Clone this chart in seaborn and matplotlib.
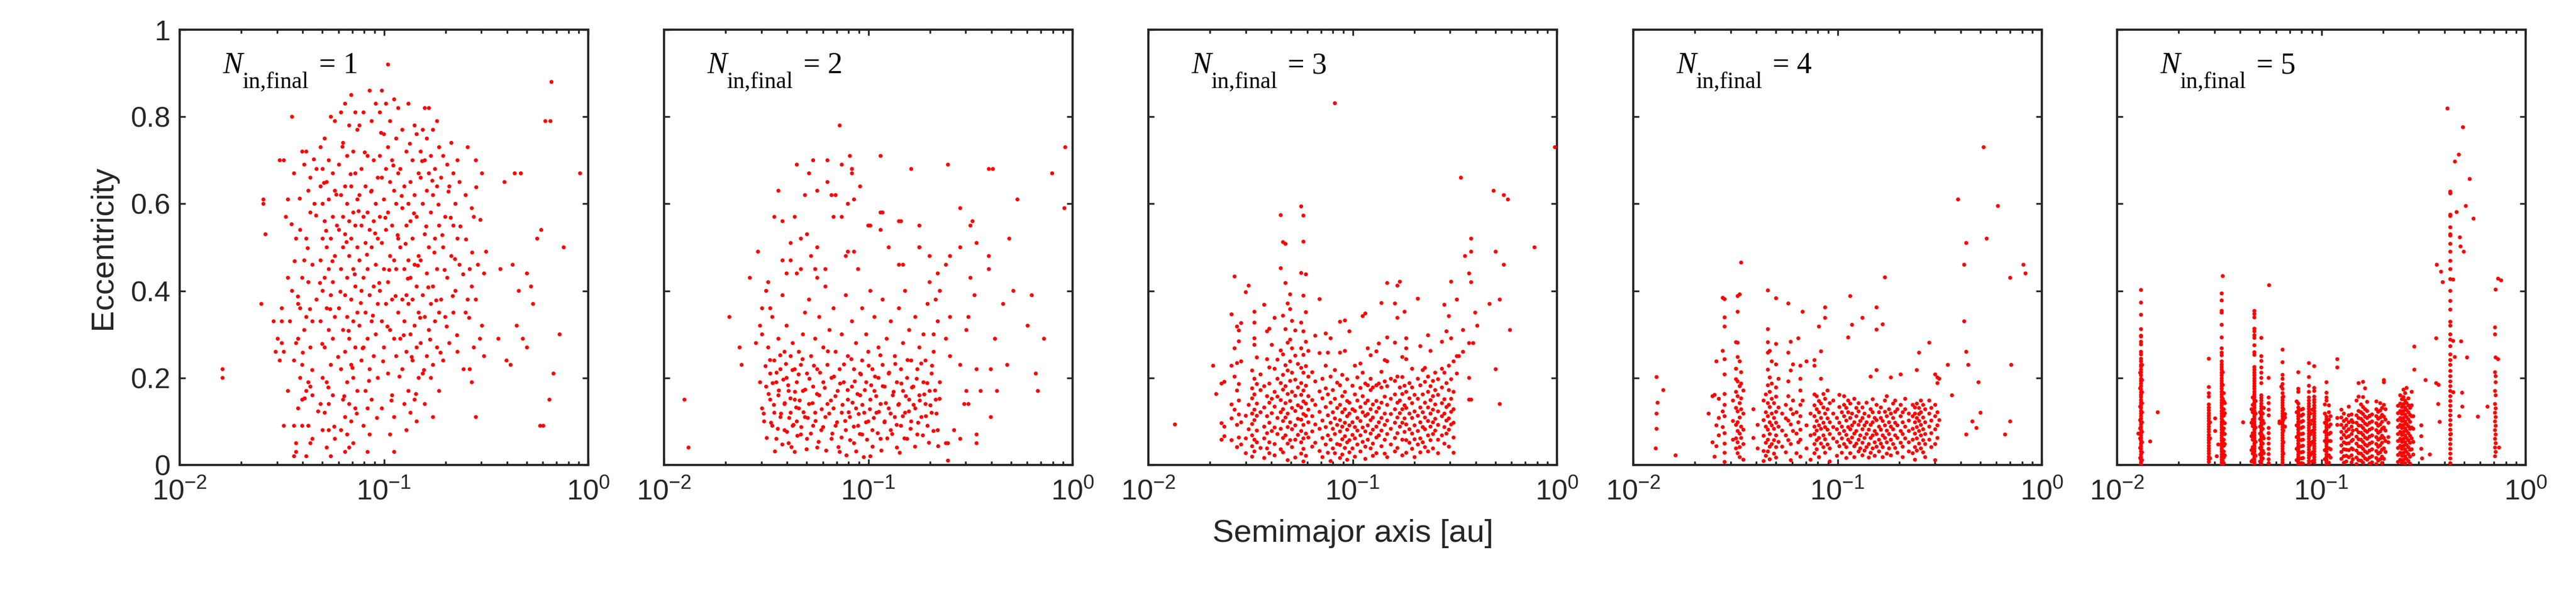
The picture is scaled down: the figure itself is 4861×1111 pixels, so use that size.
"""
Eccentricity vs semimajor axis for systems with N_in,final = 1..5
Five log-x scatter panels in one row, MATLAB-like box style.
"""

import numpy as np
import pandas as pd
import matplotlib
matplotlib.use('Agg')
import matplotlib.pyplot as plt
import seaborn as sns
from matplotlib.ticker import LogLocator, NullFormatter, FixedLocator

# ==================== DATA ====================
# Values: (log10 a [au], e) pairs.
# Panels 1-2 are loose clouds -> plain pairs.
# Panels 3-5 show vertical streaks -> (log10 a, [e, e, ...]) columns.

panel1_points = [
    (-1.79, 0.22), (-1.79, 0.20), (-1.59, 0.61), (-1.59, 0.60), (-1.58, 0.53), (-1.60, 0.37),
    (-1.54, 0.33), (-1.50, 0.36), (-1.52, 0.29), (-1.53, 0.26), (-1.51, 0.24), (-1.50, 0.28),
    (-1.51, 0.70), (-1.49, 0.70), (-1.45, 0.80), (-1.44, 0.67), (-1.47, 0.61), (-1.48, 0.57),
    (-1.43, 0.52), (-1.47, 0.43), (-1.45, 0.40), (-1.42, 0.37), (-1.50, 0.33), (-1.46, 0.33),
    (-1.43, 0.28), (-1.49, 0.26), (-1.44, 0.24), (-1.47, 0.17), (-1.42, 0.13), (-1.49, 0.09),
    (-1.44, 0.09), (-1.43, 0.05), (-1.40, 0.15), (-1.43, 0.03), (-1.44, 0.02),
    (-1.40, 0.72), (-1.38, 0.72), (-1.39, 0.69), (-1.33, 0.68), (-1.36, 0.66), (-1.37, 0.63),
    (-1.34, 0.60), (-1.36, 0.58), (-1.41, 0.54), (-1.38, 0.52), (-1.39, 0.47), (-1.35, 0.46),
    (-1.40, 0.43), (-1.37, 0.42), (-1.33, 0.38), (-1.41, 0.36), (-1.38, 0.34), (-1.35, 0.33),
    (-1.39, 0.31), (-1.42, 0.29), (-1.36, 0.27), (-1.40, 0.23), (-1.41, 0.20), (-1.37, 0.19),
    (-1.36, 0.18), (-1.38, 0.17), (-1.35, 0.16), (-1.40, 0.09), (-1.37, 0.09), (-1.35, 0.06),
    (-1.36, 0.05), (-1.38, 0.02),
    (-1.26, 0.80), (-1.24, 0.79), (-1.29, 0.75), (-1.31, 0.73), (-1.27, 0.70), (-1.30, 0.68),
    (-1.25, 0.67), (-1.28, 0.65), (-1.31, 0.64), (-1.24, 0.63), (-1.27, 0.61), (-1.30, 0.60),
    (-1.25, 0.57), (-1.29, 0.56), (-1.23, 0.55), (-1.30, 0.52), (-1.26, 0.52), (-1.28, 0.50),
    (-1.24, 0.48), (-1.31, 0.47), (-1.27, 0.45), (-1.29, 0.43), (-1.25, 0.42), (-1.30, 0.40),
    (-1.26, 0.39), (-1.28, 0.36), (-1.24, 0.34), (-1.31, 0.33), (-1.27, 0.31), (-1.25, 0.29),
    (-1.29, 0.27), (-1.26, 0.23), (-1.30, 0.20), (-1.28, 0.19), (-1.25, 0.16), (-1.31, 0.14),
    (-1.27, 0.14), (-1.29, 0.12), (-1.30, 0.08), (-1.27, 0.08), (-1.24, 0.06), (-1.28, 0.04),
    (-1.26, 0.02),
    (-1.16, 0.85), (-1.19, 0.83), (-1.14, 0.81), (-1.21, 0.81), (-1.17, 0.78), (-1.13, 0.77),
    (-1.20, 0.74), (-1.15, 0.72), (-1.18, 0.71), (-1.22, 0.69), (-1.14, 0.67), (-1.19, 0.64),
    (-1.16, 0.64), (-1.21, 0.62), (-1.13, 0.61), (-1.18, 0.60), (-1.15, 0.58), (-1.20, 0.57),
    (-1.17, 0.56), (-1.14, 0.55), (-1.22, 0.54), (-1.19, 0.53), (-1.16, 0.52), (-1.13, 0.50),
    (-1.20, 0.50), (-1.17, 0.48), (-1.21, 0.45), (-1.15, 0.45), (-1.18, 0.43), (-1.14, 0.41),
    (-1.19, 0.39), (-1.16, 0.38), (-1.22, 0.36), (-1.13, 0.35), (-1.18, 0.34), (-1.15, 0.33),
    (-1.20, 0.31), (-1.17, 0.29), (-1.14, 0.27), (-1.19, 0.26), (-1.16, 0.23), (-1.21, 0.22),
    (-1.15, 0.20), (-1.18, 0.19), (-1.13, 0.17), (-1.20, 0.15), (-1.17, 0.14), (-1.14, 0.13),
    (-1.19, 0.11), (-1.16, 0.10), (-1.21, 0.08), (-1.18, 0.07), (-1.15, 0.05), (-1.17, 0.04),
    (-1.19, 0.03),
    (-1.07, 0.86), (-1.04, 0.83), (-1.10, 0.81), (-1.06, 0.79), (-1.12, 0.78), (-1.08, 0.71),
    (-1.05, 0.70), (-1.11, 0.68), (-1.03, 0.66), (-1.09, 0.64), (-1.06, 0.63), (-1.12, 0.62),
    (-1.04, 0.60), (-1.08, 0.58), (-1.10, 0.57), (-1.05, 0.56), (-1.11, 0.55), (-1.07, 0.54),
    (-1.03, 0.52), (-1.09, 0.51), (-1.06, 0.50), (-1.12, 0.47), (-1.04, 0.46), (-1.08, 0.45),
    (-1.10, 0.43), (-1.05, 0.41), (-1.11, 0.40), (-1.07, 0.39), (-1.03, 0.37), (-1.09, 0.35),
    (-1.06, 0.33), (-1.12, 0.32), (-1.04, 0.30), (-1.08, 0.29), (-1.10, 0.27), (-1.05, 0.25),
    (-1.11, 0.24), (-1.07, 0.22), (-1.03, 0.20), (-1.09, 0.17), (-1.06, 0.15), (-1.08, 0.13),
    (-1.10, 0.09), (-1.07, 0.07), (-1.08, 0.03),
    (-0.98, 0.92), (-1.01, 0.86), (-0.95, 0.84), (-0.99, 0.83), (-0.93, 0.82), (-1.02, 0.81),
    (-0.97, 0.79), (-1.00, 0.76), (-0.94, 0.75), (-0.98, 0.73), (-1.02, 0.71), (-0.96, 0.70),
    (-0.99, 0.68), (-0.93, 0.67), (-1.01, 0.66), (-0.97, 0.65), (-0.95, 0.63), (-1.00, 0.61),
    (-0.94, 0.60), (-0.98, 0.58), (-1.02, 0.57), (-0.96, 0.55), (-0.99, 0.54), (-0.93, 0.52),
    (-1.01, 0.51), (-0.97, 0.48), (-0.95, 0.47), (-1.00, 0.45), (-0.94, 0.45), (-0.98, 0.42),
    (-1.02, 0.40), (-0.96, 0.38), (-0.99, 0.37), (-0.93, 0.35), (-1.01, 0.33), (-0.97, 0.31),
    (-0.95, 0.29), (-1.00, 0.27), (-0.94, 0.25), (-0.98, 0.21), (-0.96, 0.16), (-1.01, 0.13),
    (-0.95, 0.11), (-0.97, 0.07), (-0.95, 0.03),
    (-0.88, 0.83), (-0.85, 0.78), (-0.91, 0.77), (-0.84, 0.76), (-0.89, 0.72), (-0.86, 0.70),
    (-0.92, 0.68), (-0.83, 0.67), (-0.87, 0.65), (-0.90, 0.64), (-0.85, 0.62), (-0.88, 0.60),
    (-0.91, 0.59), (-0.84, 0.57), (-0.87, 0.56), (-0.89, 0.55), (-0.86, 0.52), (-0.92, 0.50),
    (-0.83, 0.48), (-0.88, 0.47), (-0.85, 0.46), (-0.90, 0.45), (-0.87, 0.43), (-0.84, 0.41),
    (-0.89, 0.39), (-0.91, 0.38), (-0.86, 0.38), (-0.88, 0.37), (-0.83, 0.35), (-0.90, 0.33),
    (-0.85, 0.32), (-0.87, 0.30), (-0.92, 0.29), (-0.84, 0.27), (-0.89, 0.26), (-0.86, 0.24),
    (-0.91, 0.22), (-0.83, 0.20), (-0.88, 0.17), (-0.85, 0.15), (-0.90, 0.14), (-0.87, 0.12),
    (-0.84, 0.10), (-0.89, 0.08),
    (-0.78, 0.82), (-0.80, 0.82), (-0.74, 0.79), (-0.81, 0.77), (-0.76, 0.77), (-0.79, 0.75),
    (-0.73, 0.73), (-0.82, 0.72), (-0.77, 0.71), (-0.80, 0.70), (-0.75, 0.68), (-0.78, 0.67),
    (-0.82, 0.66), (-0.74, 0.64), (-0.79, 0.63), (-0.76, 0.62), (-0.81, 0.60), (-0.77, 0.58),
    (-0.73, 0.55), (-0.80, 0.53), (-0.75, 0.52), (-0.78, 0.50), (-0.82, 0.47), (-0.74, 0.45),
    (-0.79, 0.44), (-0.76, 0.41), (-0.81, 0.39), (-0.77, 0.37), (-0.73, 0.35), (-0.80, 0.34),
    (-0.75, 0.33), (-0.78, 0.31), (-0.82, 0.28), (-0.74, 0.27), (-0.79, 0.25), (-0.76, 0.23),
    (-0.81, 0.21), (-0.77, 0.20), (-0.73, 0.17), (-0.80, 0.14), (-0.76, 0.11),
    (-0.67, 0.74), (-0.71, 0.71), (-0.64, 0.70), (-0.69, 0.69), (-0.66, 0.67), (-0.72, 0.66),
    (-0.63, 0.65), (-0.68, 0.64), (-0.65, 0.60), (-0.70, 0.57), (-0.66, 0.55), (-0.64, 0.52),
    (-0.71, 0.50), (-0.67, 0.48), (-0.63, 0.46), (-0.69, 0.43), (-0.65, 0.40), (-0.72, 0.38),
    (-0.66, 0.35), (-0.70, 0.34), (-0.68, 0.28), (-0.64, 0.26), (-0.71, 0.24),
    (-0.59, 0.73), (-0.55, 0.70), (-0.52, 0.67), (-0.57, 0.59), (-0.60, 0.62), (-0.56, 0.57),
    (-0.50, 0.49), (-0.58, 0.45), (-0.54, 0.46), (-0.51, 0.44), (-0.57, 0.41), (-0.60, 0.35),
    (-0.55, 0.38), (-0.59, 0.38), (-0.52, 0.32), (-0.56, 0.27), (-0.61, 0.22), (-0.58, 0.22),
    (-0.53, 0.29), (-0.57, 0.19), (-0.55, 0.11), (-0.51, 0.25),
    (-0.43, 0.45), (-0.36, 0.67), (-0.33, 0.67), (-0.41, 0.65), (-0.37, 0.46), (-0.34, 0.40),
    (-0.30, 0.44), (-0.35, 0.32), (-0.32, 0.29), (-0.30, 0.27), (-0.40, 0.24), (-0.44, 0.29),
    (-0.38, 0.23),
    (-0.18, 0.88), (-0.21, 0.79), (-0.185, 0.79), (-0.04, 0.67), (-0.23, 0.54), (-0.25, 0.52),
    (-0.12, 0.50), (-0.28, 0.41), (-0.27, 0.37), (-0.14, 0.30), (-0.17, 0.21), (-0.19, 0.15),
    (-0.235, 0.09), (-0.22, 0.09),
    (-1.452, 0.553), (-1.437, 0.468), (-1.421, 0.387), (-1.412, 0.612), (-1.397, 0.258),
    (-1.388, 0.153), (-1.373, 0.498), (-1.362, 0.358), (-1.351, 0.218), (-1.343, 0.702),
    (-1.332, 0.573), (-1.322, 0.123), (-1.313, 0.418), (-1.302, 0.278), (-1.293, 0.648),
    (-1.283, 0.538), (-1.272, 0.178), (-1.263, 0.358), (-1.252, 0.468), (-1.243, 0.088),
    (-1.233, 0.621), (-1.224, 0.248), (-1.213, 0.398), (-1.203, 0.731), (-1.194, 0.158),
    (-1.183, 0.512), (-1.173, 0.308), (-1.163, 0.668), (-1.154, 0.223), (-1.143, 0.438),
    (-1.133, 0.118), (-1.124, 0.583), (-1.113, 0.372), (-1.104, 0.268), (-1.094, 0.718),
    (-1.083, 0.483), (-1.073, 0.193), (-1.063, 0.628), (-1.054, 0.343), (-1.043, 0.532),
    (-1.034, 0.108), (-1.023, 0.418), (-1.014, 0.763), (-1.004, 0.238), (-0.993, 0.568),
    (-0.983, 0.318), (-0.974, 0.448), (-0.963, 0.148), (-0.954, 0.688), (-0.943, 0.388),
    (-0.933, 0.528), (-0.924, 0.203), (-0.913, 0.618), (-0.903, 0.298), (-0.894, 0.508),
    (-0.883, 0.428), (-0.873, 0.738), (-0.864, 0.248), (-0.853, 0.578), (-0.843, 0.163),
    (-0.834, 0.458), (-0.823, 0.338), (-0.813, 0.698), (-0.804, 0.218), (-0.793, 0.548),
    (-0.783, 0.408), (-0.774, 0.288), (-0.763, 0.653), (-0.753, 0.488), (-0.744, 0.378),
    (-0.733, 0.598), (-0.723, 0.258), (-0.714, 0.528), (-0.703, 0.448), (-0.693, 0.318),
    (-0.684, 0.628), (-0.673, 0.568), (-0.663, 0.388), (-0.652, 0.473), (-0.642, 0.298),
    (-0.626, 0.548), (-0.612, 0.438), (-0.598, 0.518), (-0.583, 0.338), (-0.568, 0.488),
    (-0.548, 0.638), (-0.528, 0.563),
]

panel2_points = [
    (-1.90, 0.15), (-1.88, 0.04), (-1.68, 0.34), (-1.63, 0.27), (-1.62, 0.23), (-1.58, 0.43),
    (-1.55, 0.28), (-1.53, 0.19), (-1.54, 0.49), (-1.14, 0.78), (-0.94, 0.71), (-1.09, 0.71),
    (-0.61, 0.69), (-0.41, 0.68), (-0.39, 0.68), (-0.79, 0.68), (-0.27, 0.61), (-0.10, 0.67),
    (-0.036, 0.73), (-0.04, 0.59),
    (-0.31, 0.52), (-0.34, 0.37), (-0.29, 0.40), (-0.20, 0.39), (-0.22, 0.32), (-0.14, 0.29),
    (-0.18, 0.21), (-0.17, 0.17), (-0.32, 0.23), (-0.40, 0.22), (-0.40, 0.11), (-0.38, 0.29),
    (-0.41, 0.45), (-0.41, 0.48), (-0.47, 0.51), (-0.50, 0.43), (-0.49, 0.56), (-0.50, 0.55),
    (-0.55, 0.59), (-0.55, 0.50), (-0.60, 0.48), (-0.62, 0.46), (-0.48, 0.39), (-0.51, 0.34),
    (-0.52, 0.31), (-0.47, 0.22), (-0.45, 0.17), (-0.37, 0.17), (-0.51, 0.14), (-0.47, 0.07),
    (-0.47, 0.05), (-0.62, 0.05), (-0.61, 0.05), (-0.61, 0.01), (-0.58, 0.08), (-0.55, 0.06),
    (-0.53, 0.14), (-0.52, 0.17), (-0.55, 0.23), (-0.60, 0.25), (-0.62, 0.29), (-0.60, 0.34),
    (-0.68, 0.30), (-0.66, 0.33), (-0.67, 0.38), (-0.70, 0.42), (-0.65, 0.40), (-0.75, 0.50),
    (-0.70, 0.48), (-0.75, 0.55), (-0.85, 0.56), (-0.84, 0.56), (-0.66, 0.44),
    (-1.35, 0.69), (-1.44, 0.63), (-1.46, 0.57), (-1.42, 0.56), (-1.36, 0.57), (-1.31, 0.62),
    (-1.29, 0.67), (-1.27, 0.70), (-1.25, 0.63), (-1.20, 0.70), (-1.20, 0.65), (-1.18, 0.62),
    (-1.16, 0.62), (-1.13, 0.69), (-1.08, 0.68), (-1.08, 0.67), (-1.04, 0.64), (-1.07, 0.61),
    (-1.10, 0.60), (-1.00, 0.55), (-0.99, 0.55), (-0.94, 0.54), (-0.94, 0.58), (-0.93, 0.58),
    (-0.90, 0.50), (-0.85, 0.46), (-0.83, 0.46), (-0.75, 0.50), (-1.05, 0.45), (-1.07, 0.49),
    (-1.10, 0.49), (-1.11, 0.48), (-1.13, 0.57), (-1.17, 0.57), (-1.21, 0.45), (-1.25, 0.43),
    (-1.26, 0.45), (-1.30, 0.53), (-1.28, 0.48), (-1.25, 0.50), (-1.38, 0.51), (-1.38, 0.47),
    (-1.40, 0.44), (-1.33, 0.45), (-1.42, 0.47), (-1.49, 0.42), (-1.50, 0.40), (-1.48, 0.36),
    (-1.52, 0.36), (-1.53, 0.32), (-1.52, 0.30),
    (-1.52, 0.13), (-1.51, 0.10), (-1.50, 0.18), (-1.49, 0.27), (-1.48, 0.21), (-1.48, 0.15),
    (-1.47, 0.34), (-1.47, 0.09), (-1.46, 0.24), (-1.46, 0.12), (-1.45, 0.19), (-1.45, 0.06),
    (-1.44, 0.29), (-1.44, 0.16), (-1.43, 0.22), (-1.43, 0.11), (-1.42, 0.39), (-1.41, 0.26),
    (-1.41, 0.14), (-1.41, 0.08), (-1.40, 0.20), (-1.40, 0.32), (-1.39, 0.17), (-1.39, 0.05),
    (-1.38, 0.25), (-1.38, 0.12), (-1.37, 0.28), (-1.37, 0.09), (-1.36, 0.22), (-1.36, 0.15),
    (-1.36, 0.03), (-1.35, 0.44), (-1.35, 0.19), (-1.35, 0.10), (-1.34, 0.26), (-1.34, 0.13),
    (-1.33, 0.52), (-1.33, 0.23), (-1.33, 0.07), (-1.32, 0.30), (-1.32, 0.17), (-1.31, 0.35),
    (-1.31, 0.11), (-1.30, 0.21), (-1.30, 0.06), (-1.29, 0.38), (-1.29, 0.14), (-1.28, 0.25),
    (-1.27, 0.18), (-1.27, 0.09), (-1.26, 0.29), (-1.26, 0.12), (-1.25, 0.22), (-1.25, 0.04),
    (-1.24, 0.34), (-1.24, 0.16), (-1.23, 0.08), (-1.22, 0.27), (-1.22, 0.19), (-1.21, 0.41),
    (-1.21, 0.11), (-1.20, 0.23), (-1.20, 0.14), (-1.19, 0.31), (-1.18, 0.06), (-1.18, 0.20),
    (-1.17, 0.36), (-1.17, 0.13), (-1.16, 0.26), (-1.16, 0.09), (-1.15, 0.17), (-1.14, 0.22),
    (-1.14, 0.03), (-1.13, 0.30), (-1.13, 0.12), (-1.12, 0.19), (-1.11, 0.39), (-1.11, 0.08),
    (-1.10, 0.25), (-1.10, 0.15), (-1.09, 0.11), (-1.08, 0.33), (-1.08, 0.18), (-1.07, 0.22),
    (-1.07, 0.05), (-1.06, 0.28), (-1.06, 0.13), (-1.05, 0.09), (-1.04, 0.21), (-1.04, 0.16),
    (-1.03, 0.36), (-1.03, 0.24), (-1.03, 0.07), (-1.02, 0.12), (-1.01, 0.30), (-1.01, 0.19),
    (-1.00, 0.26), (-1.00, 0.10), (-0.99, 0.40), (-0.99, 0.15), (-0.99, 0.02), (-0.98, 0.22),
    (-0.98, 0.08), (-0.97, 0.34), (-0.97, 0.17), (-0.96, 0.12), (-0.95, 0.27), (-0.95, 0.20),
    (-0.94, 0.06), (-0.94, 0.14), (-0.93, 0.38), (-0.93, 0.23), (-0.92, 0.18), (-0.92, 0.10),
    (-0.91, 0.29), (-0.90, 0.13), (-0.90, 0.21), (-0.89, 0.33), (-0.89, 0.08), (-0.88, 0.16),
    (-0.87, 0.25), (-0.87, 0.11), (-0.86, 0.19), (-0.86, 0.04), (-0.85, 0.36), (-0.85, 0.14),
    (-0.84, 0.22), (-0.84, 0.09), (-0.83, 0.28), (-0.83, 0.17), (-0.82, 0.40), (-0.82, 0.12),
    (-0.81, 0.20), (-0.81, 0.06), (-0.80, 0.31), (-0.80, 0.15), (-0.79, 0.24), (-0.79, 0.10),
    (-0.78, 0.18), (-0.77, 0.34), (-0.77, 0.13), (-0.76, 0.22), (-0.76, 0.07), (-0.75, 0.27),
    (-0.75, 0.16), (-0.74, 0.11), (-0.73, 0.19), (-0.73, 0.30), (-0.72, 0.14), (-0.72, 0.24),
    (-0.71, 0.09), (-0.71, 0.37), (-0.70, 0.17), (-0.69, 0.21), (-0.69, 0.12), (-0.68, 0.26),
    (-0.67, 0.15), (-0.66, 0.08), (-0.65, 0.19),
    (-1.512, 0.118), (-1.503, 0.227), (-1.497, 0.062), (-1.488, 0.163), (-1.481, 0.241),
    (-1.476, 0.097), (-1.468, 0.188), (-1.462, 0.138), (-1.457, 0.031), (-1.449, 0.212),
    (-1.443, 0.083), (-1.438, 0.171), (-1.431, 0.252), (-1.427, 0.118), (-1.421, 0.047),
    (-1.416, 0.196), (-1.409, 0.142), (-1.403, 0.232), (-1.398, 0.076), (-1.392, 0.183),
    (-1.387, 0.108), (-1.381, 0.153), (-1.376, 0.041), (-1.371, 0.218), (-1.366, 0.092),
    (-1.359, 0.168), (-1.353, 0.132), (-1.347, 0.067), (-1.341, 0.208), (-1.336, 0.148),
    (-1.328, 0.087), (-1.322, 0.243), (-1.317, 0.121), (-1.309, 0.173), (-1.302, 0.036),
    (-1.296, 0.108), (-1.288, 0.198), (-1.281, 0.072), (-1.273, 0.142), (-1.266, 0.228),
    (-1.258, 0.101), (-1.251, 0.163), (-1.243, 0.053), (-1.236, 0.212), (-1.228, 0.128),
    (-1.221, 0.087), (-1.213, 0.177), (-1.206, 0.033), (-1.198, 0.261), (-1.191, 0.118),
    (-1.183, 0.148), (-1.176, 0.072), (-1.168, 0.203), (-1.161, 0.158), (-1.153, 0.098),
    (-1.146, 0.041), (-1.138, 0.187), (-1.131, 0.063), (-1.126, 0.138), (-1.119, 0.231),
    (-1.113, 0.101), (-1.107, 0.022), (-1.101, 0.172), (-1.096, 0.121), (-1.089, 0.057),
    (-1.083, 0.243), (-1.077, 0.143), (-1.071, 0.088), (-1.066, 0.192), (-1.059, 0.031),
    (-1.053, 0.163), (-1.047, 0.117), (-1.041, 0.071), (-1.036, 0.208), (-1.029, 0.138),
    (-1.022, 0.018), (-1.017, 0.172), (-1.011, 0.098), (-1.006, 0.058), (-0.998, 0.228),
    (-0.992, 0.128), (-0.986, 0.183), (-0.979, 0.042), (-0.973, 0.108), (-0.967, 0.203),
    (-0.961, 0.158), (-0.954, 0.073), (-0.948, 0.122), (-0.941, 0.252), (-0.936, 0.033),
    (-0.929, 0.181), (-0.921, 0.098), (-0.914, 0.142), (-0.907, 0.061), (-0.898, 0.212),
    (-0.891, 0.118), (-0.883, 0.071), (-0.876, 0.168), (-0.868, 0.232), (-0.861, 0.092),
    (-0.853, 0.138), (-0.846, 0.028), (-0.838, 0.187), (-0.831, 0.112), (-0.823, 0.061),
    (-0.816, 0.158), (-0.808, 0.241), (-0.801, 0.123), (-0.793, 0.083), (-0.786, 0.178),
    (-0.778, 0.138), (-0.771, 0.042), (-0.763, 0.198), (-0.756, 0.097), (-0.748, 0.148),
    (-0.741, 0.233), (-0.733, 0.068), (-0.726, 0.162), (-0.718, 0.112), (-0.711, 0.188),
    (-0.703, 0.051), (-0.696, 0.137), (-0.688, 0.228), (-0.681, 0.078), (-0.673, 0.171),
    (-0.666, 0.118), (-0.658, 0.043), (-0.651, 0.152),
]

panel3_columns = [
    (-1.870, [0.093]), (-1.683, [0.228]), (-1.668, [0.163]), (-1.642, [0.187, 0.096, 0.058]),
    (-1.628, [0.191, 0.088, 0.066]), (-1.593, [0.346, 0.228, 0.139, 0.107, 0.057]),
    (-1.578, [0.433, 0.268, 0.203, 0.127]), (-1.566, [0.318, 0.234, 0.171, 0.092, 0.041]),
    (-1.557, [0.284, 0.309, 0.186, 0.148, 0.116, 0.063]), (-1.546, [0.326, 0.238, 0.098, 0.047]),
    (-1.523, [0.397, 0.113, 0.061, 0.027]), (-1.509, [0.412, 0.138, 0.082]),
    (-1.492, [0.217, 0.176, 0.153, 0.118, 0.094, 0.068, 0.043, 0.019]),
    (-1.481, [0.352, 0.327, 0.291, 0.276, 0.198, 0.162, 0.127, 0.103, 0.058, 0.031]),
    (-1.469, [0.247, 0.186, 0.141, 0.113, 0.079, 0.052]),
    (-1.451, [0.208, 0.172, 0.121, 0.039]),
    (-1.433, [0.368, 0.181, 0.132, 0.088, 0.061, 0.016]),
    (-1.419, [0.307, 0.243, 0.158, 0.112, 0.073, 0.038]),
    (-1.408, [0.313, 0.224, 0.187, 0.143, 0.097, 0.052, 0.027]),
    (-1.396, [0.276, 0.152, 0.119, 0.078]),
    (-1.382, [0.338, 0.221, 0.168, 0.134, 0.086, 0.048, 0.022]),
    (-1.368, [0.242, 0.198, 0.157, 0.108, 0.071]),
    (-1.352, [0.574, 0.452, 0.263, 0.188, 0.149, 0.121, 0.083, 0.036]),
    (-1.341, [0.512, 0.343, 0.254, 0.207, 0.173, 0.128, 0.101, 0.062, 0.029]),
    (-1.329, [0.508, 0.418, 0.312, 0.229, 0.181, 0.142, 0.109, 0.068]),
    (-1.318, [0.371, 0.281, 0.217, 0.163, 0.118, 0.087, 0.049, 0.011]),
    (-1.306, [0.392, 0.358, 0.288, 0.238, 0.193, 0.147, 0.098, 0.057]),
    (-1.297, [0.331, 0.268, 0.212, 0.168, 0.131, 0.082, 0.041]),
    (-1.281, [0.309, 0.251, 0.196, 0.159, 0.124, 0.091, 0.058, 0.017]),
    (-1.268, [0.232, 0.178, 0.137, 0.106, 0.069]),
    (-1.252, [0.594, 0.441, 0.327, 0.268, 0.223, 0.188, 0.161, 0.132, 0.104, 0.078, 0.052, 0.026]),
    (-1.241, [0.573, 0.513, 0.389, 0.307, 0.253, 0.212, 0.171, 0.146, 0.117, 0.092, 0.061, 0.037, 0.008]),
    (-1.229, [0.438, 0.351, 0.283, 0.227, 0.182, 0.141, 0.113, 0.072, 0.021]),
    (-1.217, [0.262, 0.203, 0.158, 0.127, 0.098, 0.063]),
    (-1.198, [0.213, 0.149, 0.112, 0.077, 0.042]),
    (-1.183, [0.297, 0.192, 0.138, 0.093, 0.051]),
    (-1.162, [0.381, 0.257, 0.169, 0.122, 0.083, 0.032]),
    (-1.148, [0.198, 0.153, 0.102, 0.062, 0.018]),
    (-1.132, [0.302, 0.228, 0.176, 0.133, 0.087, 0.047]),
    (-1.121, [0.258, 0.162, 0.114, 0.068, 0.028]),
    (-1.108, [0.291, 0.203, 0.143, 0.097, 0.058, 0.009]),
    (-1.097, [0.172, 0.121, 0.083, 0.038]),
    (-1.087, [0.831, 0.218, 0.152, 0.107, 0.071, 0.027]),
    (-1.076, [0.189, 0.131, 0.092, 0.048]),
    (-1.062, [0.329, 0.258, 0.183, 0.138, 0.103, 0.077, 0.046, 0.016]),
    (-1.051, [0.207, 0.158, 0.121, 0.088, 0.059, 0.024]),
    (-1.038, [0.332, 0.262, 0.168, 0.128, 0.097, 0.066, 0.039]),
    (-1.027, [0.197, 0.147, 0.112, 0.081, 0.052, 0.012]),
    (-1.016, [0.307, 0.143, 0.118, 0.091, 0.057, 0.029]),
    (-1.001, [0.182, 0.128, 0.098, 0.069, 0.038]),
    (-0.989, [0.228, 0.162, 0.124, 0.087, 0.061, 0.019]),
    (-0.977, [0.201, 0.148, 0.108, 0.079, 0.047]),
    (-0.962, [0.233, 0.177, 0.133, 0.101, 0.068, 0.031]),
    (-0.951, [0.342, 0.212, 0.158, 0.121, 0.086, 0.053]),
    (-0.938, [0.348, 0.187, 0.142, 0.113, 0.077, 0.042, 0.014]),
    (-0.926, [0.268, 0.183, 0.148, 0.117, 0.091, 0.058]),
    (-0.912, [0.252, 0.198, 0.172, 0.128, 0.103, 0.072, 0.038]),
    (-0.901, [0.178, 0.139, 0.109, 0.081, 0.049, 0.021]),
    (-0.884, [0.261, 0.183, 0.147, 0.122, 0.088, 0.063, 0.027]),
    (-0.872, [0.279, 0.187, 0.131, 0.098, 0.068]),
    (-0.859, [0.372, 0.214, 0.178, 0.143, 0.108, 0.079, 0.043]),
    (-0.843, [0.241, 0.192, 0.157, 0.118, 0.092, 0.058, 0.026]),
    (-0.831, [0.418, 0.293, 0.238, 0.181, 0.138, 0.102, 0.071, 0.018]),
    (-0.813, [0.198, 0.152, 0.117, 0.083, 0.047]),
    (-0.793, [0.371, 0.281, 0.193, 0.162, 0.128, 0.097, 0.062, 0.031]),
    (-0.781, [0.412, 0.338, 0.203, 0.143, 0.109, 0.073, 0.039]),
    (-0.769, [0.421, 0.178, 0.148, 0.119, 0.088]),
    (-0.757, [0.248, 0.202, 0.163, 0.128, 0.097, 0.058, 0.022]),
    (-0.746, [0.352, 0.182, 0.137, 0.107, 0.076]),
    (-0.738, [0.291, 0.268, 0.243, 0.168, 0.131, 0.093, 0.057, 0.028]),
    (-0.722, [0.188, 0.153, 0.118, 0.082, 0.051]),
    (-0.709, [0.221, 0.178, 0.142, 0.108, 0.072, 0.037]),
    (-0.697, [0.161, 0.123, 0.091, 0.059, 0.018]),
    (-0.681, [0.382, 0.198, 0.152, 0.113, 0.078, 0.047]),
    (-0.669, [0.273, 0.183, 0.132, 0.098, 0.061, 0.029]),
    (-0.657, [0.218, 0.162, 0.121, 0.087, 0.052]),
    (-0.646, [0.223, 0.191, 0.143, 0.109, 0.082, 0.041]),
    (-0.631, [0.298, 0.203, 0.168, 0.132, 0.101, 0.068, 0.031]),
    (-0.619, [0.262, 0.181, 0.149, 0.118, 0.088, 0.057]),
    (-0.607, [0.193, 0.158, 0.127, 0.098, 0.071, 0.038]),
    (-0.596, [0.212, 0.172, 0.139, 0.106, 0.079]),
    (-0.582, [0.197, 0.161, 0.123, 0.092, 0.058, 0.027]),
    (-0.563, [0.283, 0.221, 0.178, 0.142, 0.112, 0.068]),
    (-0.551, [0.368, 0.212, 0.151, 0.118, 0.087, 0.049]),
    (-0.541, [0.307, 0.188, 0.133, 0.102, 0.072]),
    (-0.529, [0.342, 0.228, 0.172, 0.138, 0.107, 0.081, 0.042]),
    (-0.518, [0.421, 0.291, 0.197, 0.152, 0.122, 0.093]),
    (-0.506, [0.238, 0.168, 0.128, 0.097, 0.063, 0.028]),
    (-0.49, [0.38, 0.25, 0.21]), (-0.48, [0.25]), (-0.47, [0.66]), (-0.46, [0.31, 0.26]),
    (-0.45, [0.48]), (-0.43, [0.44, 0.28, 0.20, 0.15]), (-0.42, [0.52, 0.49, 0.42, 0.15]),
    (-0.41, [0.28]), (-0.40, [0.35]), (-0.39, [0.32]), (-0.33, [0.37]), (-0.31, [0.63]),
    (-0.30, [0.49, 0.22]), (-0.28, [0.38, 0.14]), (-0.26, [0.62, 0.46]), (-0.24, [0.61]),
    (-0.23, [0.31]), (-0.11, [0.50]), (-0.01, [0.73]),
]

panel4_columns = [
    (-1.890, [0.038]), (-1.886, [0.202, 0.118, 0.083]), (-1.881, [0.143]), (-1.853, [0.172]),
    (-1.793, [0.022]), (-1.631, [0.118]), (-1.612, [0.158, 0.052]), (-1.602, [0.161, 0.019]),
    (-1.593, [0.238, 0.043, 0.091]), (-1.581, [0.108, 0.152, 0.068]),
    (-1.562, [0.384, 0.262, 0.123, 0.087]),
    (-1.553, [0.381, 0.339, 0.318, 0.243, 0.208, 0.163, 0.138, 0.112, 0.073, 0.049, 0.028, 0.007]),
    (-1.512, [0.148, 0.101, 0.058]),
    (-1.497, [0.282, 0.221, 0.197, 0.168, 0.131, 0.092, 0.061, 0.038]),
    (-1.489, [0.388, 0.352, 0.281, 0.248, 0.192, 0.158, 0.123, 0.098, 0.078, 0.052, 0.027]),
    (-1.479, [0.392, 0.238, 0.181, 0.142, 0.109, 0.072, 0.041, 0.018]),
    (-1.472, [0.465, 0.213, 0.187, 0.153, 0.128, 0.088, 0.062]),
    (-1.461, [0.171, 0.118, 0.081, 0.048, 0.012]),
    (-1.412, [0.128, 0.062]), (-1.391, [0.092, 0.038]),
    (-1.362, [0.148, 0.103, 0.067, 0.032, 0.009]),
    (-1.351, [0.162, 0.121, 0.088, 0.051, 0.021]),
    (-1.341, [0.401, 0.312, 0.282, 0.258, 0.219, 0.183, 0.142, 0.112, 0.081, 0.058, 0.031]),
    (-1.332, [0.262, 0.201, 0.168, 0.133, 0.098, 0.071, 0.042, 0.013]),
    (-1.322, [0.238, 0.187, 0.152, 0.118, 0.091, 0.048]),
    (-1.311, [0.142, 0.108, 0.083, 0.057, 0.026]),
    (-1.301, [0.383, 0.278, 0.231, 0.178, 0.157, 0.122, 0.097, 0.068, 0.041, 0.017]),
    (-1.289, [0.198, 0.132, 0.088, 0.053]),
    (-1.271, [0.118, 0.079, 0.042]),
    (-1.253, [0.138, 0.107, 0.068, 0.029]),
    (-1.241, [0.371, 0.258, 0.192, 0.158, 0.102, 0.057]),
    (-1.229, [0.283, 0.217, 0.128, 0.093, 0.048, 0.011]),
    (-1.218, [0.231, 0.148, 0.117, 0.078]),
    (-1.201, [0.121, 0.072, 0.027]),
    (-1.192, [0.291, 0.098, 0.052]),
    (-1.182, [0.228, 0.198, 0.171, 0.138, 0.112, 0.081, 0.058, 0.019]),
    (-1.171, [0.352, 0.148]),
    (-1.152, [0.238, 0.091, 0.038]),
    (-1.132, [0.118, 0.068, 0.012]),
    (-1.113, [0.241, 0.228, 0.162, 0.137, 0.112, 0.088, 0.071, 0.048, 0.027]),
    (-1.102, [0.158, 0.128, 0.101, 0.079, 0.057, 0.036]),
    (-1.091, [0.318, 0.147, 0.121, 0.091, 0.062, 0.018]),
    (-1.081, [0.261, 0.198, 0.141, 0.108, 0.083, 0.049]),
    (-1.069, [0.163, 0.132, 0.097, 0.068, 0.041]),
    (-1.061, [0.362, 0.338, 0.152, 0.118, 0.087, 0.059, 0.028]),
    (-1.049, [0.171, 0.128, 0.107, 0.081, 0.047]),
    (-1.038, [0.142, 0.098, 0.071, 0.038, 0.008]),
    (-1.021, [0.148, 0.118, 0.087, 0.061]),
    (-1.003, [0.108, 0.082, 0.053, 0.021]),
    (-0.991, [0.161, 0.133, 0.097, 0.072, 0.043]),
    (-0.979, [0.121, 0.088, 0.061, 0.028]),
    (-0.968, [0.158, 0.138, 0.112, 0.078, 0.048]),
    (-0.957, [0.131, 0.102, 0.069, 0.041, 0.016]),
    (-0.948, [0.293, 0.148, 0.121, 0.087, 0.058]),
    (-0.938, [0.388, 0.141, 0.108, 0.082, 0.052, 0.027]),
    (-0.929, [0.322, 0.118, 0.091, 0.063]),
    (-0.918, [0.152, 0.098, 0.072, 0.043, 0.018]),
    (-0.908, [0.131, 0.112, 0.078, 0.049]),
    (-0.897, [0.142, 0.123, 0.092, 0.058, 0.031]),
    (-0.889, [0.101, 0.068, 0.038]),
    (-0.878, [0.338, 0.132, 0.108, 0.082, 0.051, 0.022]),
    (-0.868, [0.118, 0.091, 0.062, 0.033]),
    (-0.858, [0.143, 0.098, 0.071, 0.041]),
    (-0.847, [0.112, 0.081, 0.048, 0.017]),
    (-0.838, [0.203, 0.128, 0.092, 0.062, 0.028]),
    (-0.828, [0.151, 0.121, 0.098, 0.068, 0.038]),
    (-0.818, [0.108, 0.078, 0.052, 0.021]),
    (-0.809, [0.362, 0.311, 0.218, 0.138, 0.103, 0.071, 0.042]),
    (-0.797, [0.121, 0.088, 0.058, 0.031]),
    (-0.788, [0.132, 0.108, 0.081, 0.049]),
    (-0.779, [0.323, 0.101, 0.068, 0.041, 0.018]),
    (-0.768, [0.431, 0.148, 0.122, 0.091, 0.062]),
    (-0.759, [0.158, 0.112, 0.079, 0.052, 0.026]),
    (-0.748, [0.128, 0.098, 0.071, 0.038]),
    (-0.739, [0.201, 0.118, 0.088, 0.058, 0.022]),
    (-0.728, [0.141, 0.108, 0.082, 0.048]),
    (-0.718, [0.148, 0.122, 0.097, 0.068, 0.039]),
    (-0.707, [0.128, 0.091, 0.062, 0.028]),
    (-0.691, [0.208, 0.138, 0.112, 0.078, 0.051]),
    (-0.681, [0.121, 0.098, 0.071, 0.042, 0.018]),
    (-0.669, [0.152, 0.128, 0.088, 0.061]),
    (-0.651, [0.118, 0.102, 0.078, 0.052, 0.031]),
    (-0.632, [0.138, 0.112, 0.083, 0.058, 0.027]),
    (-0.621, [0.132, 0.118, 0.098, 0.072, 0.041, 0.012]),
    (-0.612, [0.218, 0.141, 0.108, 0.087, 0.061, 0.033]),
    (-0.601, [0.258, 0.131, 0.117, 0.101, 0.078, 0.049]),
    (-0.592, [0.148, 0.121, 0.092, 0.068, 0.038]),
    (-0.581, [0.138, 0.109, 0.082, 0.057, 0.029]),
    (-0.571, [0.128, 0.098, 0.071, 0.048, 0.018]),
    (-0.551, [0.281, 0.148, 0.118, 0.088, 0.058]),
    (-0.541, [0.131, 0.102, 0.073, 0.041]),
    (-0.522, [0.208, 0.138, 0.112, 0.082, 0.048, 0.011]),
    (-0.511, [0.201, 0.188, 0.121, 0.091, 0.062]),
    (-0.502, [0.198, 0.103]),
    (-0.46, [0.23]), (-0.44, [0.16]), (-0.41, [0.61]), (-0.38, [0.46, 0.33]),
    (-0.37, [0.51, 0.26, 0.07]), (-0.36, [0.23]), (-0.34, [0.10]), (-0.32, [0.085]),
    (-0.31, [0.19]), (-0.30, [0.12]), (-0.285, [0.73]), (-0.27, [0.52]), (-0.215, [0.595]),
    (-0.18, [0.07]), (-0.155, [0.43, 0.10]), (-0.15, [0.23]), (-0.09, [0.46]), (-0.08, [0.44]),
]

panel5_columns = [
    (-1.883, [0.402, 0.373, 0.345, 0.312, 0.297, 0.295, 0.283, 0.277, 0.260, 0.254, 0.244, 0.238,
              0.230, 0.226, 0.219, 0.213, 0.206, 0.198, 0.193, 0.187, 0.181, 0.174, 0.167, 0.161,
              0.156, 0.149, 0.143, 0.137, 0.131, 0.124, 0.118, 0.112, 0.106, 0.099, 0.093, 0.087,
              0.081, 0.074, 0.068, 0.062, 0.056, 0.049, 0.043, 0.037, 0.031, 0.024, 0.018, 0.012,
              0.006, 0.001]),
    (-1.878, [0.230, 0.195, 0.167, 0.142, 0.121, 0.098, 0.076, 0.052, 0.029, 0.011]),
    (-1.887, [0.212, 0.176, 0.134, 0.103, 0.084, 0.061, 0.039, 0.016]),
    (-1.896, [0.072]), (-1.838, [0.054]), (-1.801, [0.121]),
    (-1.551, [0.244, 0.179, 0.165, 0.157, 0.139, 0.132, 0.126, 0.119, 0.113, 0.107, 0.101, 0.094,
              0.088, 0.082, 0.076, 0.069, 0.063, 0.057, 0.051, 0.044, 0.038, 0.032, 0.026, 0.019,
              0.013, 0.007]),
    (-1.545, [0.098, 0.061, 0.015]), (-1.520, [0.107, 0.078]), (-1.512, [0.020]), (-1.505, [0.047]),
    (-1.488, [0.394, 0.378, 0.354, 0.350, 0.322, 0.293, 0.268, 0.258, 0.252, 0.238, 0.231, 0.225,
              0.219, 0.212, 0.206, 0.199, 0.193, 0.187, 0.181, 0.175, 0.168, 0.162, 0.156, 0.149,
              0.143, 0.137, 0.131, 0.124, 0.118, 0.112, 0.106, 0.099, 0.093, 0.087, 0.081, 0.074,
              0.068, 0.062, 0.056, 0.049, 0.043, 0.037, 0.031, 0.024, 0.018, 0.012, 0.006, 0.0]),
    (-1.483, [0.434, 0.213, 0.184, 0.152, 0.127, 0.101, 0.078, 0.053, 0.027, 0.009]),
    (-1.478, [0.165, 0.146, 0.128, 0.113, 0.097, 0.084, 0.071, 0.058, 0.044, 0.031, 0.017, 0.004]),
    (-1.473, [0.142, 0.119, 0.096, 0.071, 0.048, 0.022]),
    (-1.383, [0.098]),
    (-1.328, [0.354, 0.347, 0.339, 0.313, 0.307, 0.298, 0.292, 0.275, 0.259, 0.253, 0.225, 0.219,
              0.212, 0.206, 0.199, 0.193, 0.187, 0.181, 0.175, 0.168, 0.162, 0.156, 0.149, 0.143,
              0.137, 0.131, 0.124, 0.118, 0.112, 0.106, 0.099, 0.093, 0.087, 0.081, 0.074, 0.068,
              0.062, 0.056, 0.049, 0.043, 0.037, 0.031, 0.024, 0.018, 0.012, 0.006, 0.001]),
    (-1.336, [0.155, 0.138, 0.121, 0.104, 0.089, 0.073, 0.058, 0.041, 0.026, 0.011]),
    (-1.342, [0.128, 0.097, 0.066, 0.034, 0.008]),
    (-1.322, [0.147, 0.118, 0.086, 0.053, 0.021]),
    (-1.294, [0.292, 0.250, 0.239, 0.224, 0.212, 0.200, 0.188, 0.160, 0.154, 0.148, 0.141, 0.135,
              0.129, 0.122, 0.116, 0.110, 0.104, 0.097, 0.091, 0.085, 0.079, 0.072, 0.066, 0.060,
              0.053, 0.047, 0.041, 0.035, 0.028, 0.022, 0.016, 0.009, 0.003]),
    (-1.300, [0.121, 0.106, 0.088, 0.072, 0.057, 0.039, 0.024, 0.008]),
    (-1.287, [0.118, 0.102, 0.083, 0.067, 0.049, 0.033, 0.015]),
    (-1.282, [0.131, 0.096, 0.061, 0.027]),
    (-1.258, [0.200, 0.155, 0.142, 0.127, 0.114, 0.085, 0.073, 0.061, 0.049, 0.037, 0.025, 0.013, 0.004]),
    (-1.256, [0.413]),
    (-1.190, [0.265, 0.236, 0.207, 0.198, 0.186, 0.175, 0.165, 0.155, 0.149, 0.143, 0.137, 0.131,
              0.124, 0.118, 0.112, 0.106, 0.099, 0.093, 0.087, 0.081, 0.074, 0.068, 0.062, 0.056,
              0.049, 0.043, 0.037, 0.031, 0.024, 0.018, 0.012, 0.006, 0.001]),
    (-1.186, [0.157, 0.128, 0.104, 0.079, 0.052, 0.026]),
    (-1.178, [0.117, 0.109, 0.088]), (-1.205, [0.100, 0.096]), (-1.196, [0.180]),
    (-1.113, [0.213, 0.175, 0.168, 0.141, 0.132, 0.124, 0.118, 0.112, 0.106, 0.099, 0.093, 0.087,
              0.081, 0.074, 0.068, 0.062, 0.056, 0.049, 0.043, 0.037, 0.031, 0.024, 0.018, 0.012,
              0.006, 0.001]),
    (-1.121, [0.146, 0.121, 0.091, 0.064, 0.037, 0.011]),
    (-1.098, [0.127, 0.113, 0.099, 0.085, 0.071, 0.057, 0.043, 0.029, 0.015, 0.004]),
    (-1.090, [0.129, 0.116, 0.101, 0.087, 0.072, 0.058, 0.044, 0.030, 0.016, 0.003]),
    (-1.061, [0.234, 0.202, 0.182, 0.168, 0.155, 0.148, 0.141, 0.135, 0.129, 0.122, 0.116, 0.110,
              0.104, 0.097, 0.091, 0.085, 0.079, 0.072, 0.066, 0.060, 0.053, 0.047, 0.041, 0.035,
              0.028, 0.022, 0.016, 0.009, 0.003]),
    (-1.035, [0.227, 0.177, 0.170, 0.157, 0.150, 0.144, 0.137, 0.131, 0.124, 0.118, 0.112, 0.106,
              0.099, 0.093, 0.087, 0.081, 0.074, 0.068, 0.062, 0.056, 0.049, 0.043, 0.037, 0.031,
              0.024, 0.018, 0.012, 0.006]),
    (-1.053, [0.118, 0.094, 0.071, 0.047, 0.023]),
    (-1.044, [0.127, 0.102, 0.078, 0.053, 0.029, 0.008]),
    (-0.975, [0.190, 0.166, 0.155, 0.148, 0.111, 0.105, 0.099, 0.093, 0.087, 0.081, 0.074, 0.068,
              0.062, 0.056, 0.049, 0.043, 0.037, 0.031, 0.024, 0.018, 0.012, 0.006, 0.0]),
    (-0.983, [0.139, 0.118, 0.097, 0.076, 0.055, 0.034, 0.013]),
    (-0.963, [0.137, 0.121, 0.104, 0.088, 0.071, 0.055, 0.038, 0.022, 0.005]),
    (-0.955, [0.112, 0.093, 0.074, 0.055, 0.036, 0.017]),
    (-0.922, [0.243, 0.224, 0.108, 0.092]),
    (-0.902, [0.127, 0.109, 0.092, 0.076, 0.061, 0.045, 0.030, 0.014]),
    (-0.890, [0.118, 0.101, 0.085, 0.069, 0.052, 0.036, 0.020, 0.005]),
    (-0.878, [0.105, 0.091, 0.077, 0.063, 0.049, 0.035, 0.021, 0.008]),
    (-0.866, [0.134, 0.114, 0.098, 0.082, 0.066, 0.050, 0.034, 0.018]),
    (-0.852, [0.116, 0.103, 0.088, 0.071, 0.055, 0.038, 0.022, 0.006]),
    (-0.846, [0.098, 0.079, 0.058, 0.036, 0.013]),
    (-0.828, [0.148, 0.114, 0.097, 0.081, 0.065, 0.049, 0.033, 0.017, 0.002]),
    (-0.818, [0.188, 0.157, 0.124, 0.108, 0.091, 0.075, 0.059, 0.043, 0.027, 0.011]),
    (-0.806, [0.139, 0.121, 0.106, 0.090, 0.074, 0.058, 0.042, 0.026, 0.010]),
    (-0.796, [0.191, 0.156, 0.133, 0.117, 0.101, 0.085, 0.069, 0.053, 0.037, 0.021, 0.005]),
    (-0.786, [0.176, 0.128, 0.111, 0.095, 0.079, 0.063, 0.047, 0.031, 0.015]),
    (-0.776, [0.145, 0.124, 0.108, 0.092, 0.076, 0.060, 0.044, 0.028, 0.012]),
    (-0.764, [0.112, 0.113, 0.097, 0.081, 0.065, 0.049, 0.033, 0.017, 0.003]),
    (-0.752, [0.116, 0.100, 0.084, 0.068, 0.052, 0.036, 0.020, 0.006]),
    (-0.731, [0.146, 0.128, 0.112, 0.096, 0.080, 0.064, 0.048, 0.032, 0.016, 0.002]),
    (-0.722, [0.122, 0.106, 0.090, 0.074, 0.058, 0.042, 0.026, 0.010]),
    (-0.712, [0.142, 0.125, 0.109, 0.093, 0.077, 0.061, 0.045, 0.029, 0.013]),
    (-0.703, [0.131, 0.115, 0.099, 0.083, 0.067, 0.051, 0.035, 0.019, 0.004]),
    (-0.694, [0.195, 0.190, 0.138, 0.111, 0.086, 0.062, 0.038, 0.014]),
    (-0.686, [0.128, 0.104, 0.079, 0.055, 0.030]),
    (-0.672, [0.097, 0.064, 0.052]),
    (-0.625, [0.136, 0.119, 0.103, 0.087, 0.071, 0.055, 0.039, 0.023, 0.007]),
    (-0.614, [0.160, 0.141, 0.124, 0.108, 0.092, 0.076, 0.060, 0.044, 0.028, 0.012]),
    (-0.606, [0.151, 0.133, 0.117, 0.101, 0.085, 0.069, 0.053, 0.037, 0.021, 0.005]),
    (-0.598, [0.173, 0.156, 0.140, 0.124, 0.108, 0.092, 0.076, 0.060, 0.044, 0.028, 0.012]),
    (-0.590, [0.165, 0.148, 0.132, 0.116, 0.100, 0.084, 0.068, 0.052, 0.036, 0.020, 0.004]),
    (-0.583, [0.177, 0.142, 0.126, 0.110, 0.094, 0.078, 0.062, 0.046, 0.030, 0.014]),
    (-0.574, [0.153, 0.137, 0.121, 0.105, 0.089, 0.073, 0.057, 0.041, 0.025, 0.009]),
    (-0.566, [0.131, 0.115, 0.099, 0.083, 0.067, 0.051, 0.035, 0.019, 0.003]),
    (-0.558, [0.168, 0.137, 0.112, 0.086, 0.061, 0.036]),
    (-0.550, [0.112, 0.083, 0.053, 0.024]),
    (-0.545, [0.272, 0.219]),
    (-0.511, [0.091, 0.066, 0.037]), (-0.507, [0.015]), (-0.490, [0.195]), (-0.469, [0.024]),
    (-0.438, [0.291, 0.188]), (-0.435, [0.460]), (-0.428, [0.140]), (-0.426, [0.184]),
    (-0.421, [0.099]), (-0.414, [0.444]), (-0.406, [0.420]), (-0.383, [0.819]),
    (-0.369, [0.628, 0.624, 0.575, 0.572, 0.546, 0.530, 0.527, 0.508, 0.490, 0.469, 0.450, 0.427,
              0.400, 0.377, 0.357, 0.329, 0.320, 0.300, 0.288, 0.273, 0.254, 0.241, 0.230, 0.216,
              0.204, 0.192, 0.181, 0.170, 0.158, 0.147, 0.136, 0.125, 0.114, 0.103, 0.092, 0.081,
              0.070, 0.059, 0.048, 0.037, 0.026, 0.015, 0.004]),
    (-0.366, [0.071]), (-0.355, [0.426, 0.285]), (-0.354, [0.167]), (-0.347, [0.248]),
    (-0.346, [0.697]), (-0.338, [0.581]), (-0.327, [0.713]), (-0.325, [0.112]), (-0.322, [0.523]),
    (-0.319, [0.502]), (-0.316, [0.284]), (-0.311, [0.166]), (-0.310, [0.134]), (-0.307, [0.776]),
    (-0.303, [0.490]), (-0.293, [0.595]), (-0.287, [0.247]), (-0.274, [0.657]), (-0.255, [0.566]),
    (-0.234, [0.111]), (-0.187, [0.134]),
    (-0.150, [0.316, 0.300, 0.213, 0.170, 0.140, 0.120, 0.100, 0.080, 0.060, 0.040, 0.020]),
    (-0.147, [0.403, 0.247, 0.204, 0.190, 0.160, 0.130, 0.110, 0.090, 0.070, 0.050, 0.030]),
    (-0.135, [0.428, 0.243]), (-0.130, [0.040]), (-0.120, [0.424]),
]

n_in_final = [1, 2, 3, 4, 5]
y_ticks = [0, 0.2, 0.4, 0.6, 0.8, 1]
y_tick_labels = ['0', '0.2', '0.4', '0.6', '0.8', '1']


def expand_columns(columns):
    return [(la, e) for la, es in columns for e in es]


panels = [
    panel1_points,
    panel2_points,
    expand_columns(panel3_columns),
    expand_columns(panel4_columns),
    expand_columns(panel5_columns),
]

# ==================== STYLE ====================
sns.set_style('ticks')
plt.rcParams['font.family'] = ['Liberation Sans', 'DejaVu Sans']
plt.rcParams['mathtext.fontset'] = 'custom'
plt.rcParams['mathtext.rm'] = 'Liberation Sans'
plt.rcParams['mathtext.it'] = 'Liberation Sans:italic'
plt.rcParams['mathtext.default'] = 'regular'
plt.rcParams['axes.unicode_minus'] = False

ink = '#262626'
W, H = 4861, 1111
fig = plt.figure(figsize=(W / 300, H / 300), dpi=300)

# axes boxes measured on the reference (pixels)
panel_left_px = [339, 1253, 2167, 3082, 3995]
panel_w_px, panel_h_px, panel_bottom_px = 771, 821, 234

for i, (pts, n) in enumerate(zip(panels, n_in_final)):
    ax = fig.add_axes([panel_left_px[i] / W, panel_bottom_px / H, panel_w_px / W, panel_h_px / H])
    df = pd.DataFrame(pts, columns=['loga', 'e'])
    df['a'] = 10 ** df['loga']

    ax.set_xscale('log')
    sns.scatterplot(data=df, x='a', y='e', ax=ax, color='#ff0000', s=3.2,
                    linewidth=0, edgecolor='none', legend=False, zorder=3)

    ax.set_xlim(1e-2, 1e0)
    ax.set_ylim(0, 1)
    ax.xaxis.set_major_locator(LogLocator(base=10, numticks=5))
    ax.xaxis.set_minor_locator(LogLocator(base=10, subs=np.arange(2, 10), numticks=20))
    ax.xaxis.set_minor_formatter(NullFormatter())
    ax.yaxis.set_major_locator(FixedLocator(y_ticks))
    if i == 0:
        ax.set_yticklabels(y_tick_labels)
        ax.set_ylabel('Eccentricity', fontsize=14.5, color=ink, labelpad=6)
    else:
        ax.set_yticklabels([])
        ax.set_ylabel('')
    ax.set_xlabel('Semimajor axis [au]' if i == 2 else '', fontsize=14.5, color=ink, labelpad=6)

    ax.tick_params(which='both', direction='in', top=True, right=True, colors=ink,
                   labelsize=13, width=0.8)
    ax.tick_params(which='major', length=2.6)
    ax.tick_params(which='minor', length=1.6)
    ax.tick_params(axis='x', which='major', pad=6)
    ax.tick_params(axis='y', which='major', pad=4)
    for sp in ax.spines.values():
        sp.set_visible(True)
        sp.set_color(ink)
        sp.set_linewidth(1.0)

    # Panel label: N_{in,final} = n  (Times-like, MATLAB tex style)
    ax.text(0.105, 0.900, 'N', transform=ax.transAxes, family='Liberation Serif',
            style='italic', fontsize=13.5, va='baseline', ha='left', color='black')
    ax.text(0.153, 0.866, 'in,final', transform=ax.transAxes, family='Liberation Serif',
            fontsize=10.5, va='baseline', ha='left', color='black')
    ax.text(0.341, 0.900, '= %d' % n, transform=ax.transAxes, family='Liberation Serif',
            fontsize=13.5, va='baseline', ha='left', color='black')

fig.savefig('out.png', dpi=300, facecolor='white')
